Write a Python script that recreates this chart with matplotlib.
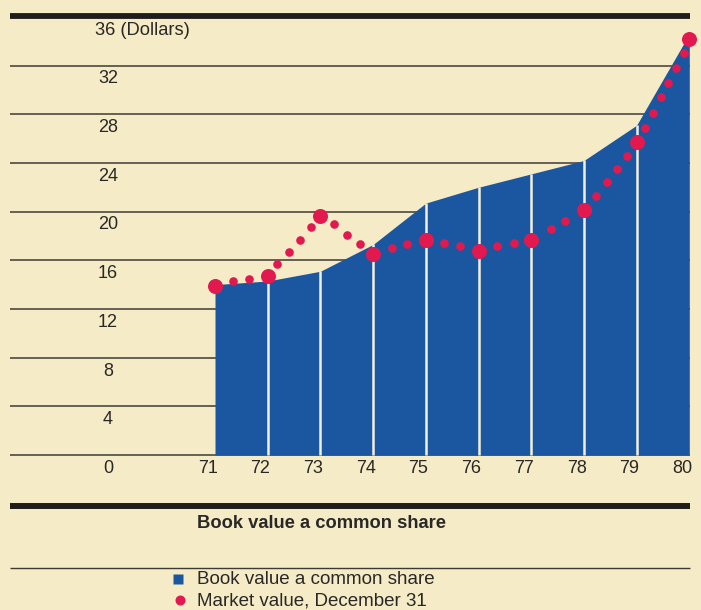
import matplotlib.pyplot as plt
from matplotlib.lines import Line2D

plt.rcParams['font.family'] = ['Liberation Sans', 'DejaVu Sans']

# Values (dollars)
years = [71, 72, 73, 74, 75, 76, 77, 78, 79, 80]
book_value = [14.0, 14.3, 15.1, 17.3, 20.7, 22.0, 23.1, 24.2, 27.1, 34.6]
market_value = [13.9, 14.7, 19.6, 16.5, 17.7, 16.8, 17.7, 20.1, 25.7, 34.2]

# small dots of the dotted market-value trace
market_dots_x = [71.35, 71.65,
                 72.18, 72.40, 72.61, 72.83,
                 73.26, 73.51, 73.75,
                 74.35, 74.65,
                 75.35, 75.65,
                 76.36, 76.67,
                 77.38, 77.65,
                 78.23, 78.43, 78.62, 78.82,
                 79.16, 79.31, 79.46, 79.60, 79.75, 79.89]
market_dots_y = [14.3, 14.5,
                 15.7, 16.7, 17.7, 18.7,
                 19.0, 18.1, 17.3,
                 17.0, 17.3,
                 17.4, 17.15,
                 17.2, 17.4,
                 18.6, 19.25,
                 21.3, 22.4, 23.5, 24.6,
                 26.9, 28.1, 29.4, 30.6, 31.8, 33.0]

y_ticks = [0, 4, 8, 12, 16, 20, 24, 28, 32]
top_label = "36 (Dollars)"

paper = '#f5ebc6'
blue = '#1b57a0'
red = '#e2194f'
dark = '#1f1d1b'
ink = '#2a2826'

fig = plt.figure(figsize=(7.01, 6.10), dpi=100)
fig.patch.set_facecolor(paper)
ax = fig.add_axes([0, 0, 1, 1])
ax.set_facecolor(paper)
ax.set_xlim(66.920, 80.222)
ax.set_ylim(-12.736, 37.387)
ax.axis('off')

x_left, x_right = 67.11, 80.01

# grid lines and heavy top rule
ax.hlines(y_ticks, x_left, x_right, color='#3d3a35', lw=1.1, zorder=1)
ax.hlines(36.1, x_left, x_right, color=dark, lw=4.2, zorder=1)

# book value area with white year dividers
ax.fill_between(years, 0, book_value, color=blue, lw=0, zorder=2)
ax.vlines(years[1:-1], 0, book_value[1:-1], color='#f3efe2', lw=1.8, zorder=3)

# market value dotted trace
ax.plot(market_dots_x, market_dots_y, 'o', color=red, ms=6.2, mec='none',
        zorder=4, clip_on=False)
ax.plot(years, market_value, 'o', color=red, ms=10.8, mec='none',
        zorder=5, clip_on=False)

# axis labels
for v in y_ticks:
    ax.text(68.97, v - 1.1, str(v), ha='center', va='center',
            fontsize=13, color=ink)
ax.text(68.72, 36 - 1.1, top_label, ha='left', va='center',
        fontsize=13.2, color=ink)
for yr in years:
    ax.text(yr + 0.05, -1.1, str(yr), ha='right', va='center',
            fontsize=13, color=ink)

# lower rule, caption and legend
ax.hlines(-4.19, x_left, x_right, color=dark, lw=4.3, zorder=1)
ax.hlines(-9.28, x_left, x_right, color='#3d3a35', lw=1.0, zorder=1)
fig.text(197 / 701, 1 - 524 / 610, 'Book value a common share',
         ha='left', va='center', fontsize=13.2, fontweight='bold', color=ink)

fig.add_artist(Line2D([178 / 701], [1 - 579 / 610], marker='s', ms=7.6,
                      color=blue, mec='none'))
fig.text(197 / 701, 1 - 580 / 610, 'Book value a common share',
         ha='left', va='center', fontsize=13.5, color=ink)
fig.add_artist(Line2D([180 / 701], [1 - 600 / 610], marker='o', ms=7.2,
                      color=red, mec='none'))
fig.text(197 / 701, 1 - 601 / 610, 'Market value, December 31',
         ha='left', va='center', fontsize=13.5, color=ink)

fig.savefig('out.png', dpi=100, facecolor=paper)
